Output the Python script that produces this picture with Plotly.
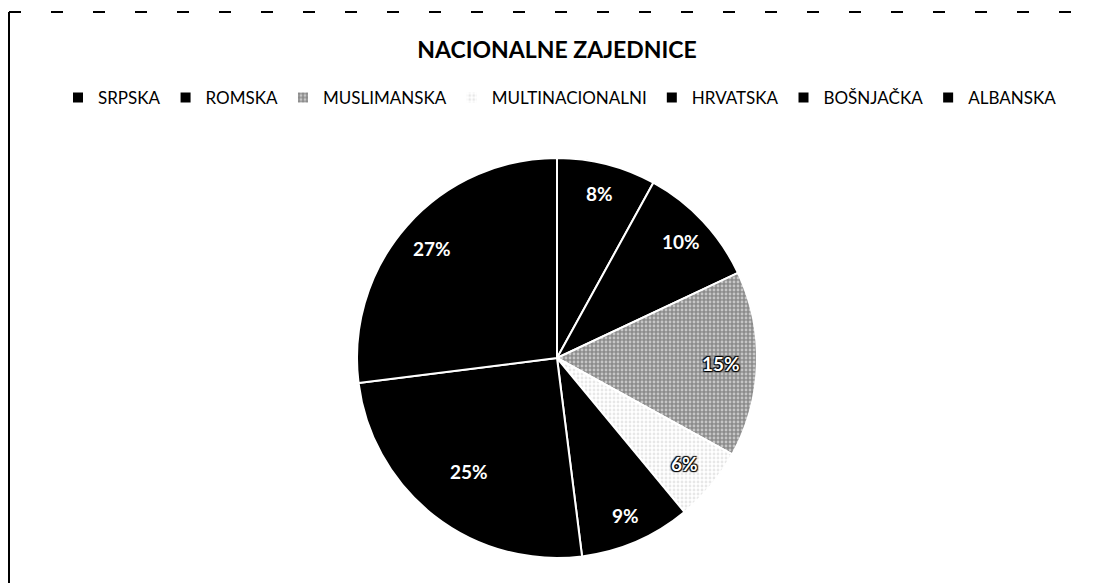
import math
import plotly.graph_objects as go

title_text = "NACIONALNE ZAJEDNICE"
categories = ["SRPSKA", "ROMSKA", "MUSLIMANSKA", "MULTINACIONALNI", "HRVATSKA", "BOŠNJAČKA", "ALBANSKA"]
values = [8, 10, 15, 6, 9, 25, 27]

slice_colors = ["#000000", "#000000", "#8c8c8c", "#ffffff", "#000000", "#000000", "#000000"]
pattern_shapes = ["", "", ".", ".", "", "", ""]
pattern_fg = ["#000000", "#000000", "#ffffff", "#d0d0d0", "#000000", "#000000", "#000000"]
outlined_label = [False, False, True, True, False, False, False]
label_radius = [0.85, 0.85, 0.82, 0.83, 0.86, 0.72, 0.83]

W, H = 1093, 583
OFF = 8  # browser page margin
cx, cy, R = 557 - OFF, 358 - OFF, 200

FONT = "Lato, Open Sans, sans-serif"

fig = go.Figure()
fig.add_trace(go.Pie(
    labels=categories,
    values=values,
    sort=False,
    direction="clockwise",
    rotation=0,
    textinfo="none",
    marker=dict(colors=slice_colors,
                line=dict(color="#ffffff", width=2),
                pattern=dict(shape=pattern_shapes, fgcolor=pattern_fg, size=4, solidity=0.4,
                             fillmode="overlay")),
    domain=dict(x=[(cx - R) / W, (cx + R) / W], y=[1 - (cy + R) / H, 1 - (cy - R) / H]),
    hoverinfo="label+percent",
))

# percent labels positioned from the data (mid-angle of each slice)
total = sum(values)
annotations = []
cum = 0
for v, outl, rf in zip(values, outlined_label, label_radius):
    mid = (cum + v / 2) / total * 2 * math.pi
    cum += v
    px = cx + rf * R * math.sin(mid)
    py = cy - rf * R * math.cos(mid)
    font = dict(family=FONT, size=19, color="#ffffff", weight="bold")
    if outl:
        font["shadow"] = "1px 1px 1px #000, -1px -1px 1px #000, 1px -1px 1px #000, -1px 1px 1px #000"
    annotations.append(dict(
        text=f"{round(v / total * 100)}%", x=px / W, y=1 - py / H, xref="paper", yref="paper",
        showarrow=False, xanchor="center", yanchor="middle", font=font))

fig.update_layout(
    width=W, height=H,
    margin=dict(l=0, r=0, t=0, b=0),
    paper_bgcolor="#ffffff",
    plot_bgcolor="#ffffff",
    title=dict(text="<b>" + title_text + "</b>", x=(557 - OFF) / W, xanchor="center",
               y=1 - (50 - OFF) / H, yanchor="middle",
               font=dict(family=FONT, size=23, color="#000000")),
    legend=dict(orientation="h", x=(560 - OFF) / W, xanchor="center", y=1 - (98 - OFF) / H, yanchor="middle",
                font=dict(family=FONT, size=17, color="#000000"),
                itemwidth=30, traceorder="normal", tracegroupgap=0),
    showlegend=True,
    annotations=annotations,
    shapes=[
        dict(type="line", xref="paper", yref="paper", x0=(9 - OFF) / W, x1=(9 - OFF) / W, y0=0,
             y1=1 - (12 - OFF) / H, line=dict(color="#000000", width=2)),
        dict(type="line", xref="paper", yref="paper", x0=(9 - OFF) / W, x1=(1085 - OFF) / W,
             y0=1 - (12 - OFF) / H, y1=1 - (12 - OFF) / H,
             line=dict(color="#000000", width=2, dash="12px,30px")),
    ],
)

fig.write_html("out.html")
